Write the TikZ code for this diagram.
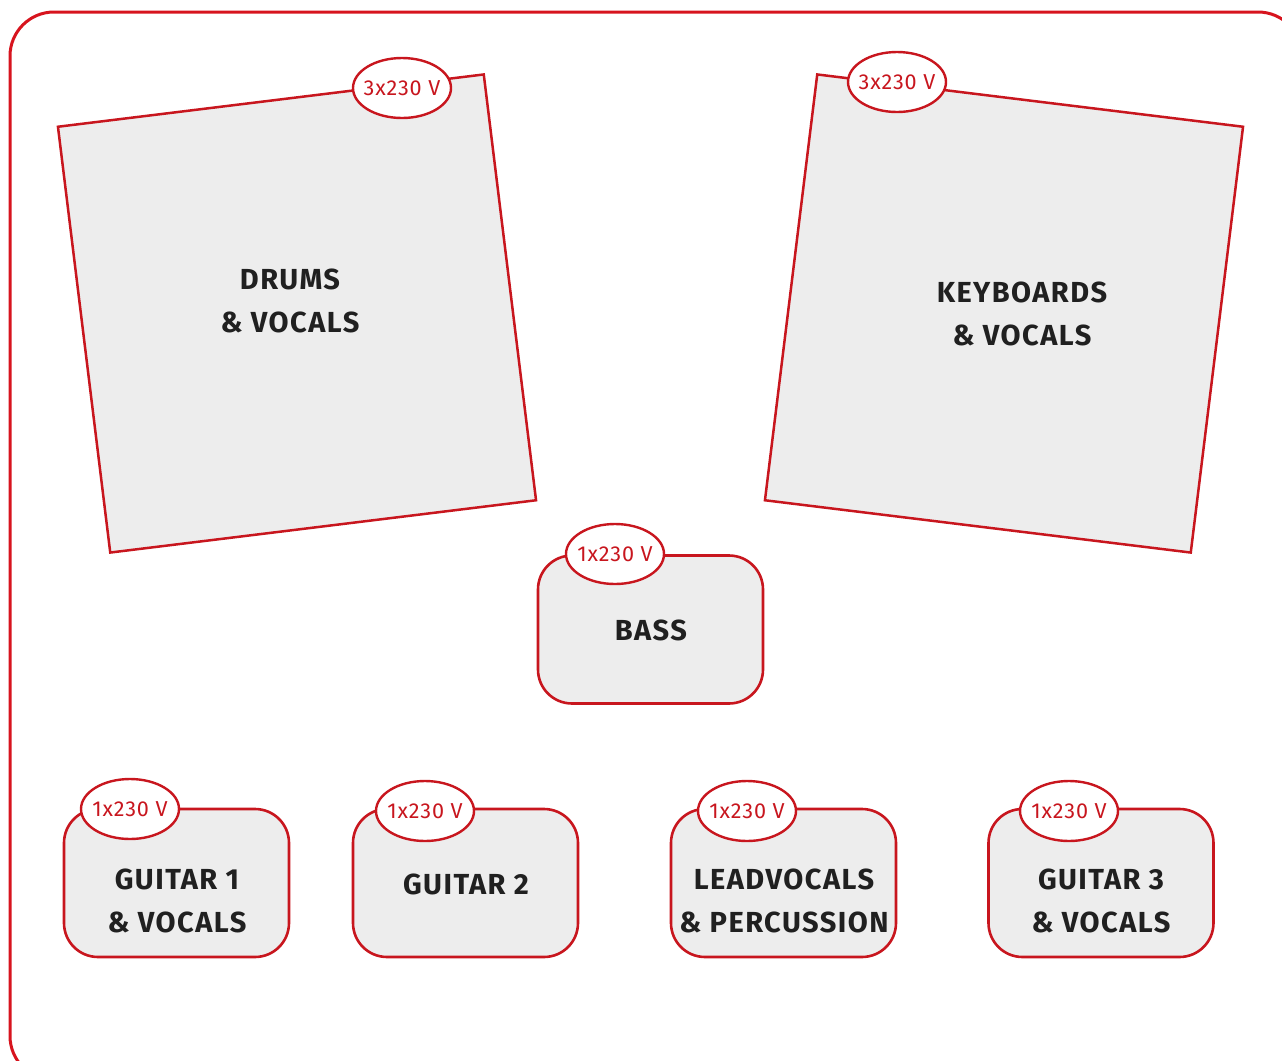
\documentclass[tikz,border=0pt]{standalone}
\usepackage{fontspec}
\setmainfont{Fira Sans}
\usetikzlibrary{shapes.geometric}
\definecolor{stagered}{HTML}{D7141E}
\definecolor{boxred}{HTML}{C8161E}
\definecolor{boxgrey}{HTML}{EDEDED}
\definecolor{textdark}{HTML}{202020}

\begin{document}
\begin{tikzpicture}[x=0.5pt,y=-0.5pt,
        riser/.style={draw=boxred,fill=boxgrey,line width=1.25pt,minimum width=214.5pt,minimum height=214.5pt,inner sep=0pt},
        spot/.style={draw=boxred,fill=boxgrey,line width=1.3pt,rounded corners=17pt,minimum width=112.5pt,minimum height=74pt,inner sep=0pt},
        power/.style={ellipse,draw=boxred,fill=white,line width=1.2pt,minimum width=49pt,minimum height=30pt,inner sep=0pt,inner xsep=-5pt,text=boxred,font=\fontsize{10.8}{12}\selectfont\addfontfeatures{LetterSpace=4}},
        caption/.style={align=center,text=textdark,inner sep=0pt,font=\fontsize{14.5}{21.5}\selectfont\bfseries\addfontfeatures{LetterSpace=5}}]
    \clip (0,0) rectangle (1282,1061);
    \draw[stagered,line width=1.5pt,rounded corners=22pt] (10,12) rectangle (1302,1080);
    % risers
    \node [riser,rotate=7] (drums) at (297,313.5) {};
    \node [riser,rotate=-7] (keys) at (1004,313.5) {};
    \node [power] (drums power) at (402,88) {3x230 V};
    \node [power] (keys power) at (897,82) {3x230 V};
    \node [caption] (drums name) at (290,301) {DRUMS\\\& VOCALS};
    \node [caption] (keys name) at (1022,314) {KEYBOARDS\\\& VOCALS};
    % bass
    \node [spot] (bass) at (650.5,629.5) {};
    \node [power] (bass power) at (615,554) {1x230 V};
    \node [caption] (bass name) at (651,630) {BASS};
    % front line
    \node [spot] (guitar one) at (176.5,883) {};
    \node [spot] (guitar two) at (465.5,883) {};
    \node [spot] (lead) at (783.5,883) {};
    \node [spot] (guitar three) at (1101,883) {};
    \node [power] (guitar one power) at (130,809) {1x230 V};
    \node [power] (guitar two power) at (425,811) {1x230 V};
    \node [power] (lead power) at (747,811) {1x230 V};
    \node [power] (guitar three power) at (1069,811) {1x230 V};
    \node [caption] (guitar one name) at (177,901) {GUITAR 1\\\& VOCALS};
    \node [caption] (guitar two name) at (466,884) {GUITAR 2};
    \node [caption] (lead name) at (784,901) {LEADVOCALS\\\& PERCUSSION};
    \node [caption] (guitar three name) at (1101,901) {GUITAR 3\\\& VOCALS};
\end{tikzpicture}
\end{document}
